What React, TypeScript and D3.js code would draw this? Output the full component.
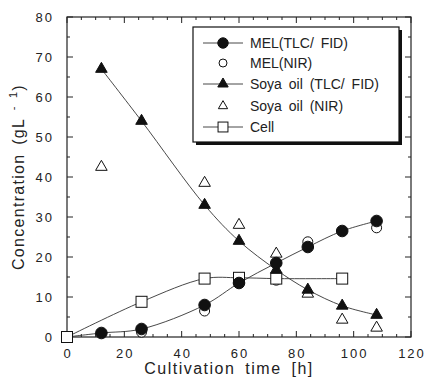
import React, { useEffect, useRef } from "react";
import * as d3 from "d3";

// hours
const melTime = [0, 12, 26, 48, 60, 73, 84, 96, 108];
const melTlc = [0, 1, 2, 8, 13.5, 18.5, 22.5, 26.5, 29];
const melNirTime = [26, 48, 60, 73, 84, 108];
const melNir = [1.2, 6.5, 14.2, 14.2, 23.8, 27.3];
const soyaTime = [12, 26, 48, 60, 73, 84, 96, 108];
const soyaTlc = [67, 54, 33, 24, 16.8, 11.8, 7.8, 5.5];
const soyaNirTime = [12, 48, 60, 73, 84, 96, 108];
const soyaNir = [42.5, 38.5, 28, 20.8, 10.8, 4.3, 2.3];
const cellTime = [0, 26, 48, 60, 73, 96];
const cellConc = [0, 8.8, 14.6, 14.8, 14.6, 14.6];

const xTicks = [0, 20, 40, 60, 80, 100, 120];
const yTicks = [0, 10, 20, 30, 40, 50, 60, 70, 80];

const legendItems = [
  { label: "MEL(TLC/ FID)", marker: "circle", fill: "#111", line: true },
  { label: "MEL(NIR)", marker: "circle", fill: "white", line: false },
  { label: "Soya oil (TLC/ FID)", marker: "triangle", fill: "#111", line: true },
  { label: "Soya oil (NIR)", marker: "triangle", fill: "white", line: false },
  { label: "Cell", marker: "square", fill: "white", line: true },
];

const App: React.FC = () => {
  const svgRef = useRef<SVGSVGElement | null>(null);

  useEffect(() => {
    if (!svgRef.current) return;
    const svg = d3.select(svgRef.current);
    svg.selectAll("*").remove();

    const left = 67, right = 411, top = 17, bottom = 337;
    const x = d3.scaleLinear().domain([0, 120]).range([left, right]);
    const y = d3.scaleLinear().domain([0, 80]).range([bottom, top]);
    const font = "Arial, 'Liberation Sans', Helvetica, sans-serif";

    // frame
    svg.append("rect")
      .attr("x", left).attr("y", top)
      .attr("width", right - left).attr("height", bottom - top)
      .attr("fill", "none").attr("stroke", "#222").attr("stroke-width", 1.2);

    // inward ticks on all four sides
    const ticks = svg.append("g").attr("stroke", "#222").attr("stroke-width", 1);
    d3.range(0, 121, 5).forEach((v) => {
      const len = v % 20 === 0 ? 6 : 3;
      ticks.append("line").attr("x1", x(v)).attr("x2", x(v)).attr("y1", bottom).attr("y2", bottom - len);
      ticks.append("line").attr("x1", x(v)).attr("x2", x(v)).attr("y1", top).attr("y2", top + len);
    });
    d3.range(0, 81, 5).forEach((v) => {
      const len = v % 10 === 0 ? 6 : 3;
      ticks.append("line").attr("y1", y(v)).attr("y2", y(v)).attr("x1", left).attr("x2", left + len);
      ticks.append("line").attr("y1", y(v)).attr("y2", y(v)).attr("x1", right).attr("x2", right - len);
    });

    // tick labels
    svg.append("g").selectAll("text").data(xTicks).enter().append("text")
      .attr("x", (d) => x(d) + 1).attr("y", bottom + 21)
      .attr("text-anchor", "middle")
      .style("font-family", font).style("font-size", "13px").style("letter-spacing", "2px")
      .attr("fill", "#222").text((d) => d);
    svg.append("g").selectAll("text").data(yTicks).enter().append("text")
      .attr("x", left - 13).attr("y", (d) => y(d) + 5)
      .attr("text-anchor", "end")
      .style("font-family", font).style("font-size", "13px").style("letter-spacing", "2px")
      .attr("fill", "#222").text((d) => d);

    // axis titles
    svg.append("text")
      .attr("x", (left + right) / 2 - 10).attr("y", 374)
      .attr("text-anchor", "middle")
      .style("font-family", font).style("font-size", "16px")
      .style("letter-spacing", "1.5px").style("word-spacing", "4px")
      .attr("fill", "#222").text("Cultivation time [h]");
    const yt = svg.append("text")
      .attr("transform", "translate(24,177) rotate(-90)")
      .attr("text-anchor", "middle")
      .style("font-family", font).style("font-size", "16px")
      .style("letter-spacing", "1.3px").style("word-spacing", "3px")
      .attr("fill", "#222");
    yt.append("tspan").text("Concentration (gL");
    yt.append("tspan").attr("dy", -7).style("font-size", "11px").text(" - 1");
    yt.append("tspan").attr("dy", 7).text(")");

    // curves
    const line = d3.line<[number, number]>()
      .x((d) => x(d[0])).y((d) => y(d[1]))
      .curve(d3.curveCatmullRom.alpha(0.5));
    const curves = svg.append("g").attr("fill", "none").attr("stroke", "#333").attr("stroke-width", 0.9);
    curves.append("path").attr("d", line(d3.zip(melTime, melTlc) as [number, number][]));
    curves.append("path").attr("d", line(d3.zip(soyaTime, soyaTlc) as [number, number][]));
    curves.append("path").attr("d", line(d3.zip(cellTime, cellConc) as [number, number][]));

    // markers
    const tri = d3.symbol().type(d3.symbolTriangle).size(58);
    const drawMarker = (g: any, type: string, fill: string, cx: number, cy: number, s = 1) => {
      if (type === "circle") {
        g.append("circle").attr("cx", cx).attr("cy", cy).attr("r", (fill === "white" ? 5 : 5.8) * s)
          .attr("fill", fill).attr("stroke", "#111").attr("stroke-width", 1);
      } else if (type === "triangle") {
        g.append("path").attr("d", d3.symbol().type(d3.symbolTriangle).size(58 * s * s)())
          .attr("transform", `translate(${cx},${cy})`)
          .attr("fill", fill).attr("stroke", "#111").attr("stroke-width", 1);
      } else {
        const h = 5.5 * s;
        g.append("rect").attr("x", cx - h).attr("y", cy - h).attr("width", 2 * h).attr("height", 2 * h)
          .attr("fill", fill).attr("stroke", "#111").attr("stroke-width", 1);
      }
    };
    void tri;
    const pts = svg.append("g");
    melNirTime.forEach((t, i) => drawMarker(pts, "circle", "white", x(t), y(melNir[i])));
    cellTime.forEach((t, i) => drawMarker(pts, "square", "white", x(t), y(cellConc[i])));
    soyaNirTime.forEach((t, i) => drawMarker(pts, "triangle", "white", x(t), y(soyaNir[i])));
    soyaTime.forEach((t, i) => drawMarker(pts, "triangle", "#111", x(t), y(soyaTlc[i])));
    melTime.slice(1).forEach((t, i) => drawMarker(pts, "circle", "#111", x(t), y(melTlc[i + 1])));

    // legend
    const lg = svg.append("g");
    lg.append("rect").attr("x", 196).attr("y", 30).attr("width", 206).attr("height", 115).attr("fill", "#111");
    lg.append("rect").attr("x", 193).attr("y", 27).attr("width", 206).attr("height", 115)
      .attr("fill", "white").attr("stroke", "#111").attr("stroke-width", 1.2);
    const rowsY = [43, 63, 84, 106, 127];
    legendItems.forEach((it, i) => {
      const cy = rowsY[i];
      if (it.line) {
        lg.append("line").attr("x1", 203).attr("x2", 243).attr("y1", cy).attr("y2", cy)
          .attr("stroke", "#333").attr("stroke-width", 0.9);
      }
      drawMarker(lg, it.marker, it.fill, 223, cy, it.line ? 0.9 : 0.8);
      lg.append("text").attr("x", 250).attr("y", cy + 5)
        .style("font-family", font).style("font-size", "14px").style("word-spacing", "3px")
        .attr("fill", "#222").text(it.label);
    });
  }, []);

  return (
    <svg ref={svgRef} width={425} height={380}
      style={{ position: "absolute", left: 0, top: 0, background: "white" }} />
  );
};

export default App;
